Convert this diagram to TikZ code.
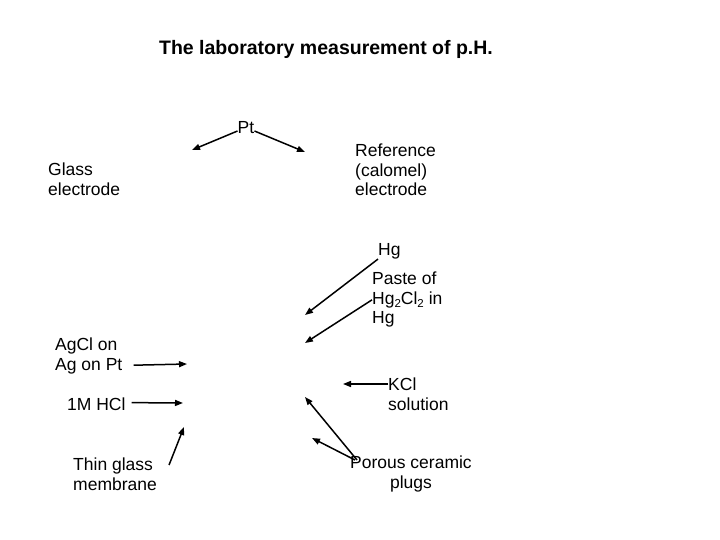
\documentclass[tikz,border=0pt]{standalone}
\usepackage{fontspec}
\setmainfont{Liberation Sans}
\usetikzlibrary{arrows.meta}
\newcommand{\lowtwo}{\raisebox{-3.5pt}{\fontsize{11.5}{12}\selectfont 2}}
\tikzset{
  lbl/.style={anchor=north west,inner sep=0pt,align=left,font=\fontsize{17.5}{19.5}\selectfont},
  ptr/.style={line width=1.5pt,-{Triangle[length=8pt,width=6pt]}}
}
\begin{document}
\begin{tikzpicture}[x=1pt,y=-1pt]
\useasboundingbox (0,0) rectangle (720,540);
\node[inner sep=0pt,font=\bfseries\fontsize{19.5}{22}\selectfont] (title) at (326,49) {The laboratory measurement of p.H.};
% labels
\node[inner sep=0pt,font=\fontsize{17.5}{19.5}\selectfont] (pt) at (246,128) {Pt};
\node[lbl] (glass) at (48,163) {Glass\\electrode};
\node[lbl] (ref) at (355,144) {Reference\\(calomel)\\electrode};
\node[lbl] (hg) at (378,243) {Hg};
\node[lbl] (paste) at (372,272) {Paste of\\Hg\lowtwo Cl\lowtwo{} in\\Hg};
\node[lbl] (agcl) at (55,338) {AgCl on\\Ag on Pt};
\node[lbl] (hcl) at (67,398) {1M HCl};
\node[lbl] (thin) at (73,458) {Thin glass\\membrane};
\node[lbl] (kcl) at (388,378) {KCl\\solution};
\node[lbl,align=center] (porous) at (350,456) {Porous ceramic\\plugs};
% arrow tips
\coordinate (ptl) at (192,150);
\coordinate (ptr) at (305,152);
\coordinate (hgtip) at (305,315);
\coordinate (pastetip) at (305,343);
\coordinate (agtip) at (187,364);
\coordinate (hcltip) at (183,403);
\coordinate (thintip) at (184,427);
\coordinate (kcltip) at (343,384);
\coordinate (plugA) at (305,397);
\coordinate (plugB) at (312,438);
% arrows
\draw[ptr] ([yshift=-3pt]pt.west) -- (ptl);
\draw[ptr] ([yshift=-3pt]pt.east) -- (ptr);
\draw[ptr] (hg.south west) -- (hgtip);
\draw[ptr] (paste.west) -- (pastetip);
\draw[ptr] ([xshift=11pt,yshift=9pt]agcl.south east) -- (agtip);
\draw[ptr] ([xshift=6pt,yshift=2pt]hcl.east) -- (hcltip);
\draw[ptr] ([xshift=12pt,yshift=-7pt]thin.north east) -- (thintip);
\draw[ptr] ([yshift=-6pt]kcl.north west) -- (kcltip);
\draw[ptr] ([xshift=7pt,yshift=-4pt]porous.north west) -- (plugA);
\draw[ptr] ([xshift=5pt,yshift=-4pt]porous.north west) -- (plugB);
\end{tikzpicture}
\end{document}
